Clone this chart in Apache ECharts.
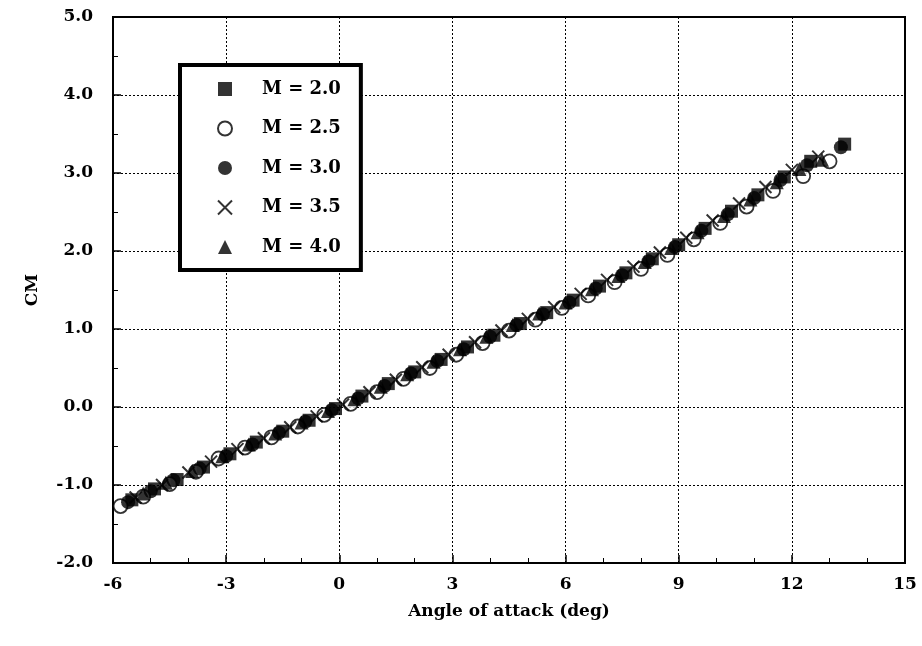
<!DOCTYPE html>
<html><head><meta charset="utf-8">
<script src="https://cdn.jsdelivr.net/npm/echarts@6/dist/echarts.min.js"></script>
<style>html,body{margin:0;padding:0;background:#fff}#c{width:922px;height:646px}</style>
</head><body><div id="c"></div>
<script>
const seriesNames = ['M = 2.0', 'M = 2.5', 'M = 3.0', 'M = 3.5', 'M = 4.0'];
const m20 = [[-5.5,-1.19],[-4.9,-1.05],[-4.3,-0.93],[-3.6,-0.77],[-2.9,-0.60],[-2.2,-0.45],[-1.5,-0.31],[-0.8,-0.17],[-0.1,-0.02],[0.6,0.14],[1.3,0.30],[2.0,0.45],[2.7,0.61],[3.4,0.77],[4.1,0.92],[4.8,1.07],[5.5,1.21],[6.2,1.37],[6.9,1.55],[7.6,1.72],[8.3,1.90],[9.0,2.08],[9.7,2.29],[10.4,2.51],[11.1,2.72],[11.8,2.95],[12.5,3.15],[13.4,3.37]];
const m25 = [[-5.8,-1.27],[-5.2,-1.15],[-4.5,-0.99],[-3.8,-0.83],[-3.2,-0.66],[-2.5,-0.52],[-1.8,-0.39],[-1.1,-0.25],[-0.4,-0.10],[0.3,0.04],[1.0,0.19],[1.7,0.36],[2.4,0.50],[3.1,0.67],[3.8,0.82],[4.5,0.98],[5.2,1.12],[5.9,1.27],[6.6,1.43],[7.3,1.60],[8.0,1.77],[8.7,1.95],[9.4,2.15],[10.1,2.36],[10.8,2.57],[11.5,2.77],[12.3,2.96],[13.0,3.15]];
const m30 = [[-5.6,-1.22],[-5.0,-1.08],[-4.4,-0.94],[-3.7,-0.79],[-3.0,-0.63],[-2.3,-0.48],[-1.6,-0.33],[-0.9,-0.19],[-0.2,-0.04],[0.5,0.11],[1.2,0.27],[1.9,0.43],[2.6,0.59],[3.3,0.74],[4.0,0.90],[4.7,1.05],[5.4,1.19],[6.1,1.34],[6.8,1.52],[7.5,1.69],[8.2,1.87],[8.9,2.05],[9.6,2.26],[10.3,2.47],[11.0,2.68],[11.7,2.91],[12.4,3.10],[13.3,3.33]];
const m35 = [[-5.4,-1.16],[-4.7,-1.00],[-4.0,-0.84],[-3.4,-0.70],[-2.7,-0.54],[-2.0,-0.40],[-1.3,-0.26],[-0.6,-0.12],[0.1,0.03],[0.8,0.19],[1.5,0.35],[2.2,0.51],[2.9,0.67],[3.6,0.83],[4.3,0.98],[5.0,1.13],[5.7,1.28],[6.4,1.45],[7.1,1.63],[7.8,1.80],[8.5,1.98],[9.2,2.17],[9.9,2.39],[10.6,2.61],[11.3,2.82],[12.0,3.04],[12.7,3.21]];
const m40 = [[-5.2,-1.11],[-4.6,-0.97],[-3.9,-0.82],[-3.1,-0.63],[-2.4,-0.48],[-1.7,-0.34],[-1.0,-0.20],[-0.3,-0.05],[0.4,0.10],[1.1,0.26],[1.8,0.42],[2.5,0.58],[3.2,0.74],[3.9,0.90],[4.6,1.05],[5.3,1.20],[6.0,1.34],[6.7,1.51],[7.4,1.68],[8.1,1.86],[8.8,2.04],[9.5,2.24],[10.2,2.45],[10.9,2.66],[11.6,2.88],[12.2,3.05],[12.8,3.17]];
const xTicks = [-6, -3, 0, 3, 6, 9, 12, 15];
const yTicks = [-2, -1, 0, 1, 2, 3, 4, 5];

const FONT = 'DejaVu Serif';
const crossPath = 'path://M0,0L10,10M10,0L0,10';
const chart = echarts.init(document.getElementById('c'));
const mk = (name, data, symbol, size, style) => ({
  name, type: 'scatter', data, symbol, symbolSize: size, itemStyle: style, z: 3
});
chart.setOption({
  animation: false,
  backgroundColor: '#fff',
  grid: { left: 113, right: 17, top: 17, bottom: 83, show: true, borderColor: '#000', borderWidth: 2, backgroundColor: 'transparent' },
  legend: {
    orient: 'vertical', left: 180, top: 65,
    padding: [15, 20, 14, 37],
    itemGap: 21.5,
    itemWidth: 14, itemHeight: 14,
    backgroundColor: '#fff', borderColor: '#000', borderWidth: 4,
    textStyle: { fontFamily: FONT, fontWeight: 'bold', fontSize: 18, color: '#000', padding: [0, 0, 0, 25], lineHeight: 18 },
    data: seriesNames
  },
  xAxis: {
    type: 'value', min: xTicks[0], max: xTicks[xTicks.length - 1], interval: 3,
    name: 'Angle of attack (deg)', nameLocation: 'middle', nameGap: 40,
    nameTextStyle: { fontFamily: FONT, fontWeight: 'bold', fontSize: 17, color: '#000' },
    axisLine: { show: true, onZero: false, lineStyle: { color: '#000', width: 2 } },
    axisTick: { show: true, inside: true, length: 8, lineStyle: { color: '#000', width: 1.5 } },
    minorTick: { show: true, splitNumber: 3, length: 5, lineStyle: { color: '#000', width: 1 } },
    splitLine: { show: true, lineStyle: { color: '#000', type: [2, 2], width: 1 } },
    axisLabel: { fontFamily: FONT, fontWeight: 'bold', fontSize: 17, color: '#000', margin: 13, formatter: v => String(v) }
  },
  yAxis: {
    type: 'value', min: yTicks[0], max: yTicks[yTicks.length - 1], interval: 1,
    name: 'CM', nameLocation: 'middle', nameGap: 72, nameRotate: 90,
    nameTextStyle: { fontFamily: FONT, fontWeight: 'bold', fontSize: 17, color: '#000' },
    axisLine: { show: true, onZero: false, lineStyle: { color: '#000', width: 2 } },
    axisTick: { show: true, inside: true, length: 8, lineStyle: { color: '#000', width: 1.5 } },
    minorTick: { show: true, splitNumber: 2, length: 5, lineStyle: { color: '#000', width: 1 } },
    splitLine: { show: true, lineStyle: { color: '#000', type: [2, 2], width: 1 } },
    axisLabel: { fontFamily: FONT, fontWeight: 'bold', fontSize: 17, color: '#000', margin: 20, formatter: v => v.toFixed(1) }
  },
  series: [
    mk(seriesNames[0], m20, 'rect', 13, { color: '#000' }),
    mk(seriesNames[1], m25, 'circle', 14, { color: '#fff', borderColor: '#000', borderWidth: 1.8 }),
    mk(seriesNames[2], m30, 'circle', 14, { color: '#000' }),
    mk(seriesNames[3], m35, crossPath, 12, { color: 'transparent', borderColor: '#000', borderWidth: 2 }),
    mk(seriesNames[4], m40, 'triangle', 14, { color: '#000' })
  ]
});
</script></body></html>
